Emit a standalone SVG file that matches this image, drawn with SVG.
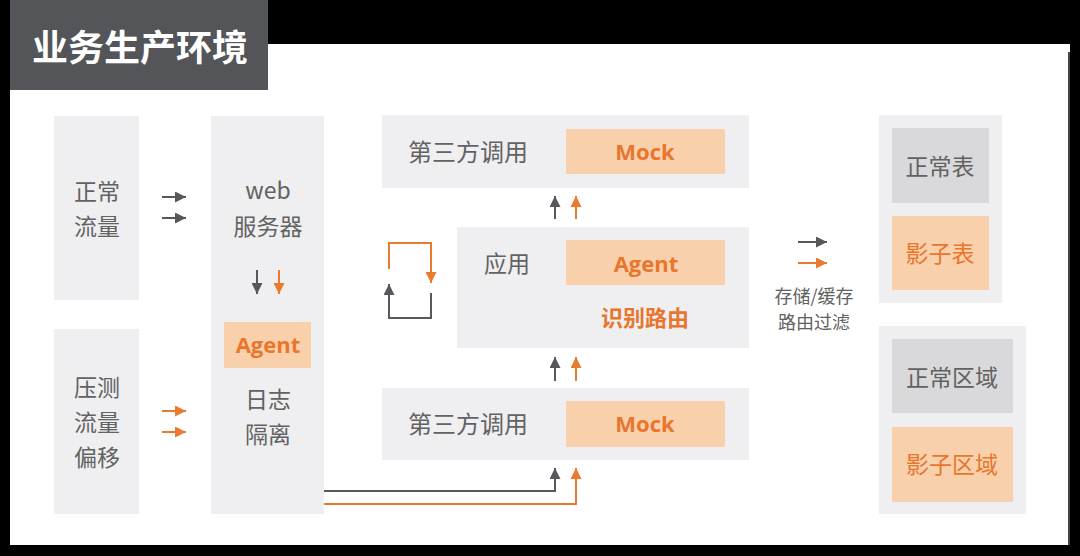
<svg xmlns="http://www.w3.org/2000/svg" width="1080" height="556" viewBox="0 0 1080 556">
<defs>
<style>
.box{fill:#efeff1}
.hi{fill:#f9d0ac}
.gr{fill:#d9d9db}
.t{font-family:"Noto Sans CJK SC","Noto Sans",sans-serif;fill:#626262;text-anchor:middle}
.to{font-family:"Noto Sans CJK SC","Noto Sans",sans-serif;fill:#e8762c;text-anchor:middle;font-weight:bold}
.tn{font-family:"Noto Sans CJK SC","Noto Sans",sans-serif;fill:#e8762c;text-anchor:middle}
.tl{font-family:"Open Sans","Noto Sans",sans-serif;fill:#e8762c;text-anchor:middle;font-weight:bold;font-size:22px}
.lg{fill:none;stroke:#55585d;stroke-width:2}
.lo{fill:none;stroke:#ea7a2e;stroke-width:2}
</style>
<marker id="ag" viewBox="0 0 10 10" refX="10" refY="5" markerWidth="11" markerHeight="11" markerUnits="userSpaceOnUse" orient="auto"><path d="M0,0 L10,5 L0,10 z" fill="#55585d"/></marker>
<marker id="ao" viewBox="0 0 10 10" refX="10" refY="5" markerWidth="11" markerHeight="11" markerUnits="userSpaceOnUse" orient="auto"><path d="M0,0 L10,5 L0,10 z" fill="#ea7a2e"/></marker>
</defs>
<rect x="0" y="0" width="1080" height="556" fill="#000"/>
<rect x="10" y="44" width="1060" height="501" fill="#fff"/>
<rect x="1068" y="52" width="2" height="493" fill="#444"/>
<g id="title">
<rect x="10" y="0" width="258" height="90" fill="#535559"/>
<text x="140" y="61" font-family="'Noto Sans CJK SC',sans-serif" font-size="36" font-weight="bold" fill="#fff" text-anchor="middle">业务生产环境</text>
</g>
<g id="normal-traffic">
<rect class="box" x="54" y="116" width="85" height="184"/>
<text class="t" x="97" y="200" font-size="23">正常</text>
<text class="t" x="97" y="235" font-size="23">流量</text>
</g>
<g id="stress-traffic">
<rect class="box" x="54" y="329" width="85" height="185"/>
<text class="t" x="97" y="396" font-size="23">压测</text>
<text class="t" x="97" y="431" font-size="23">流量</text>
<text class="t" x="97" y="466" font-size="23">偏移</text>
</g>
<g id="web-server">
<rect class="box" x="211" y="116" width="113" height="398"/>
<text class="t" x="268" y="199" font-size="23">web</text>
<text class="t" x="268" y="235" font-size="23">服务器</text>
<rect class="hi" x="224" y="322" width="87" height="46"/>
<text class="tl" x="268" y="353">Agent</text>
<text class="t" x="268" y="408" font-size="23">日志</text>
<text class="t" x="268" y="443" font-size="23">隔离</text>
</g>
<g id="third-party-top">
<rect class="box" x="382" y="115" width="367" height="73"/>
<text class="t" x="468" y="161" font-size="24">第三方调用</text>
<rect class="hi" x="566" y="129" width="159" height="45"/>
<text class="tl" x="645" y="160">Mock</text>
</g>
<g id="app">
<rect class="box" x="457" y="227" width="292" height="121"/>
<text class="t" x="507" y="272" font-size="23">应用</text>
<rect class="hi" x="566" y="240" width="159" height="45"/>
<text class="tl" x="646" y="272">Agent</text>
<text class="to" x="645" y="326" font-size="22">识别路由</text>
</g>
<g id="third-party-bottom">
<rect class="box" x="382" y="388" width="367" height="72"/>
<text class="t" x="468" y="433" font-size="24">第三方调用</text>
<rect class="hi" x="566" y="401" width="159" height="46"/>
<text class="tl" x="645" y="432">Mock</text>
</g>
<g id="tables">
<rect class="box" x="879" y="115" width="123" height="188"/>
<rect class="gr" x="892" y="128" width="97" height="75"/>
<text class="t" x="940" y="175" font-size="23">正常表</text>
<rect class="hi" x="892" y="216" width="97" height="74"/>
<text class="tn" x="940" y="262" font-size="23">影子表</text>
</g>
<g id="regions">
<rect class="box" x="879" y="326" width="147" height="188"/>
<rect class="gr" x="892" y="339" width="121" height="74"/>
<text class="t" x="952" y="386" font-size="23">正常区域</text>
<rect class="hi" x="892" y="427" width="121" height="75"/>
<text class="tn" x="952" y="473" font-size="23">影子区域</text>
</g>
<g id="storage-label">
<text class="t" x="814" y="303" font-size="18">存储/缓存</text>
<text class="t" x="814" y="329" font-size="18">路由过滤</text>
</g>
<g id="connectors">
<line class="lg" x1="162" y1="197" x2="186" y2="197" marker-end="url(#ag)"/>
<line class="lg" x1="162" y1="218" x2="186" y2="218" marker-end="url(#ag)"/>
<line class="lo" x1="162" y1="411" x2="186" y2="411" marker-end="url(#ao)"/>
<line class="lo" x1="162" y1="432" x2="186" y2="432" marker-end="url(#ao)"/>
<line class="lg" x1="257" y1="270" x2="257" y2="294" marker-end="url(#ag)"/>
<line class="lo" x1="279" y1="270" x2="279" y2="294" marker-end="url(#ao)"/>
<line class="lg" x1="555" y1="219" x2="555" y2="196" marker-end="url(#ag)"/>
<line class="lo" x1="576" y1="219" x2="576" y2="196" marker-end="url(#ao)"/>
<line class="lg" x1="555" y1="381" x2="555" y2="357" marker-end="url(#ag)"/>
<line class="lo" x1="576" y1="381" x2="576" y2="357" marker-end="url(#ao)"/>
<polyline class="lo" points="389,269 389,243 431,243 431,283" marker-end="url(#ao)"/>
<polyline class="lg" points="431,293 431,318 389,318 389,284" marker-end="url(#ag)"/>
<polyline class="lg" points="324,491 555,491 555,468" marker-end="url(#ag)"/>
<polyline class="lo" points="324,504 576,504 576,468" marker-end="url(#ao)"/>
<line class="lg" x1="798" y1="242" x2="827" y2="242" marker-end="url(#ag)"/>
<line class="lo" x1="798" y1="263" x2="827" y2="263" marker-end="url(#ao)"/>
</g>
</svg>
